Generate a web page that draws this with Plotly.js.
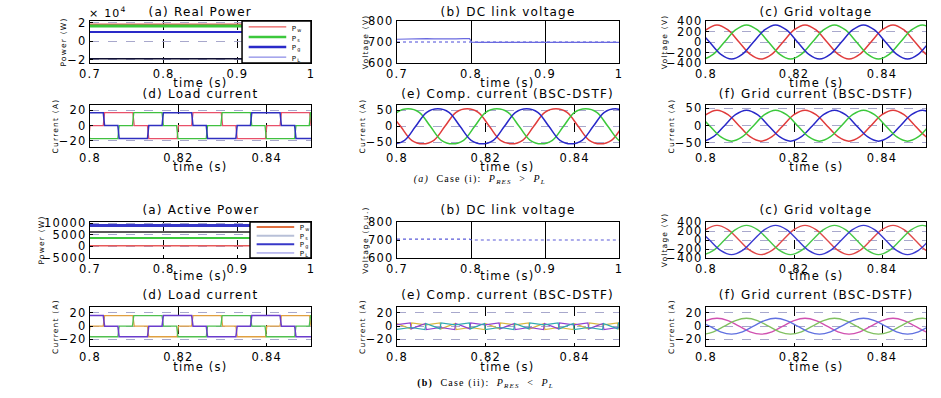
<!DOCTYPE html>
<html><head><meta charset="utf-8">
<script src="https://cdn.plot.ly/plotly-3.0.1.min.js"></script>
<style>
html,body{margin:0;padding:0;background:#fff;}
#chart{width:941px;height:398px;}
.main-svg text{letter-spacing:1.2px;}
</style></head>
<body><div id="chart"></div>
<script>
// ---------------- DATA ----------------
// power plots (time span 0.7 - 1.0 s)
const tPow = [0.7, 1.0];
const pW1 = [18500, 18500];
const pS1 = [16500, 16500];
const pG1 = [10000, 10000];
const pL1 = [-19000, -19000];
const pW2 = [300, 300];
const pS2 = [3600, 3600];
const pG2 = [9000, 9000];
const pL2 = [6200, 6200];

// DC link voltage
const tDc = [0.7, 0.71, 0.72, 0.73, 0.74, 0.75, 0.76, 0.77, 0.78, 0.79, 0.798, 0.801, 0.81, 0.85, 0.9, 0.95, 1.0];
const vDc1 = [713, 714, 716, 717, 716, 715, 714, 714, 715, 716, 716, 699, 698, 698, 698, 698, 698];
const vDc2 = [705, 705, 706, 706, 705, 705, 706, 706, 705, 705, 705, 700, 700, 700, 700, 700, 700];
const tRef = [0.7, 1.0];
const vRef1 = [700, 700];

// three-phase sample times (one list per phase)
const tP1 = [0.7975,0.8,0.8025,0.805,0.8075,0.81,0.8125,0.815,0.8175,0.82,0.8225,0.825,0.8275,0.83,0.8325,0.835,0.8375,0.84,0.8425,0.845,0.8475,0.85,0.8525];
const tP2 = [0.7967,0.7992,0.8017,0.8042,0.8067,0.8092,0.8117,0.8142,0.8167,0.8192,0.8217,0.8242,0.8267,0.8292,0.8317,0.8342,0.8367,0.8392,0.8417,0.8442,0.8467,0.8492,0.8517];
const tP3 = [0.7983,0.8008,0.8033,0.8058,0.8083,0.8108,0.8133,0.8158,0.8183,0.8208,0.8233,0.8258,0.8283,0.8308,0.8333,0.8358,0.8383,0.8408,0.8433,0.8458,0.8483,0.8508,0.8533];

// grid voltage (V)
const vGa = [0,230,325,230,0,-230,-325,-230,0,230,325,230,0,-230,-325,-230,0,230,325,230,0,-230,-325];
const vGb = [-230,-325,-230,0,230,325,230,0,-230,-325,-230,0,230,325,230,0,-230,-325,-230,0,230,325,230];
const vGc = [230,0,-230,-325,-230,0,230,325,230,0,-230,-325,-230,0,230,325,230,0,-230,-325,-230,0,230];

// grid current case (i)
const ig1a = [0,32,45,32,0,-32,-45,-32,0,32,45,32,0,-32,-45,-32,0,32,45,32,0,-32,-45];
const ig1b = [-32,-45,-32,0,32,45,32,0,-32,-45,-32,0,32,45,32,0,-32,-45,-32,0,32,45,32];
const ig1c = [32,0,-32,-45,-32,0,32,45,32,0,-32,-45,-32,0,32,45,32,0,-32,-45,-32,0,32];

// compensating current case (i)
const ic1r = [44,0,-44,-55,-44,0,44,55,44,0,-44,-55,-44,0,44,55,44,0,-44,-55,-44,0,44];
const ic1g = [0,44,55,44,0,-44,-55,-44,0,44,55,44,0,-44,-55,-44,0,44,55,44,0,-44,-55];
const ic1b = [-44,-55,-44,0,44,55,44,0,-44,-55,-44,0,44,55,44,0,-44,-55,-44,0,44,55,44];

// grid current case (ii)
const ig2a = [0,8.5,12,8.5,0,-8.5,-12,-8.5,0,8.5,12,8.5,0,-8.5,-12,-8.5,0,8.5,12,8.5,0,-8.5,-12];
const ig2b = [-8.5,-12,-8.5,0,8.5,12,8.5,0,-8.5,-12,-8.5,0,8.5,12,8.5,0,-8.5,-12,-8.5,0,8.5,12,8.5];
const ig2c = [8.5,0,-8.5,-12,-8.5,0,8.5,12,8.5,0,-8.5,-12,-8.5,0,8.5,12,8.5,0,-8.5,-12,-8.5,0,8.5];

// load current (quasi-square) breakpoints
const tLa = [0.7997,0.8,0.803,0.8033,0.8097,0.81,0.813,0.8133,0.8197,0.82,0.823,0.8233,0.8297,0.83,0.833,0.8333,0.8397,0.84,0.843,0.8433,0.8497,0.85];
const iL1a = [-17,0,0,17,17,0,0,-17,-17,0,0,17,17,0,0,-17,-17,0,0,17,17,0];
const iL2a = [-16,0,0,16,16,0,0,-16,-16,0,0,16,16,0,0,-16,-16,0,0,16,16,0];
const tLb = [0.7966,0.7996,0.7999,0.8063,0.8066,0.8096,0.8099,0.8163,0.8166,0.8196,0.8199,0.8263,0.8266,0.8296,0.8299,0.8363,0.8366,0.8396,0.8399,0.8463,0.8466,0.8496,0.8499,0.8563];
const iL1b = [0,0,-17,-17,0,0,17,17,0,0,-17,-17,0,0,17,17,0,0,-17,-17,0,0,17,17];
const iL2b = [0,0,-16,-16,0,0,16,16,0,0,-16,-16,0,0,16,16,0,0,-16,-16,0,0,16,16];
const tLc = [0.7966,0.803,0.8033,0.8063,0.8066,0.813,0.8133,0.8163,0.8166,0.823,0.8233,0.8263,0.8266,0.833,0.8333,0.8363,0.8366,0.843,0.8433,0.8463,0.8466,0.853];
const iL1c = [17,17,0,0,-17,-17,0,0,17,17,0,0,-17,-17,0,0,17,17,0,0,-17,-17];
const iL2c = [16,16,0,0,-16,-16,0,0,16,16,0,0,-16,-16,0,0,16,16,0,0,-16,-16];

// compensating current case (ii)
const tCa = [0.7965,0.7997,0.7999,0.8015,0.8031,0.8033,0.8065,0.8097,0.8099,0.8115,0.8131,0.8133,0.8165,0.8197,0.8199,0.8215,0.8231,0.8233,0.8265,0.8297,0.8299,0.8315,0.8331,0.8333,0.8365,0.8397,0.8399,0.8415,0.8431,0.8433,0.8465,0.8497,0.8499,0.8515];
const ic2a = [-2,-5,4,0,-4,5,2,5,-4,0,4,-5,-2,-5,4,0,-4,5,2,5,-4,0,4,-5,-2,-5,4,0,-4,5,2,5,-4,0];
const tCb = [0.7948,0.7964,0.7966,0.7998,0.803,0.8032,0.8048,0.8064,0.8066,0.8098,0.813,0.8132,0.8148,0.8164,0.8166,0.8198,0.823,0.8232,0.8248,0.8264,0.8266,0.8298,0.833,0.8332,0.8348,0.8364,0.8366,0.8398,0.843,0.8432,0.8448,0.8464,0.8466,0.8498,0.853];
const ic2b = [0,-4,5,2,5,-4,0,4,-5,-2,-5,4,0,-4,5,2,5,-4,0,4,-5,-2,-5,4,0,-4,5,2,5,-4,0,4,-5,-2,-5];
const tCc = [0.7981,0.7997,0.7999,0.8031,0.8063,0.8065,0.8081,0.8097,0.8099,0.8131,0.8163,0.8165,0.8181,0.8197,0.8199,0.8231,0.8263,0.8265,0.8281,0.8297,0.8299,0.8331,0.8363,0.8365,0.8381,0.8397,0.8399,0.8431,0.8463,0.8465,0.8481,0.8497,0.8499,0.8531];
const ic2c = [0,4,-5,-2,-5,4,0,-4,5,2,5,-4,0,4,-5,-2,-5,4,0,-4,5,2,5,-4,0,4,-5,-2,-5,4,0,-4,5,2];

// tick labels
const tickPowLong = [0.7, 0.8, 0.9, 1];
const tickPowLongText = ['0.7', '0.8', '0.9', '1'];
const tickShort = [0.8, 0.82, 0.84];
const tickShortText = ['0.8', '0.82', '0.84'];

// ---------------- LAYOUT ----------------
const W = 941, H = 398;
const FONT = 'DejaVu Sans, Arial, sans-serif';
const cols = [[90, 311], [397, 619], [706, 926]];
const rows = [[21, 63], [105, 147], [222, 258], [307, 346]];
const titleY = [12, 94, 210, 295];
const xlabY = [83, 167, 276, 367];

const specs = [
  {t:'(a) Real Power', long:true, yr:[-23500, 22000], yt:[-20000, 0, 20000], ytt:['−2', '0', '2'], yl:'Power (W)'},
  {t:'(b) DC link voltage', long:true, yr:[600, 800], yt:[600, 700, 800], yl:'Voltage (V)', solidGrid:true, noYGrid:true},
  {t:'(c) Grid voltage', yr:[-400, 400], yt:[-400, -200, 0, 200, 400], ytt:['−400', '−200', '0', '200', '400'], yl:'Voltage (V)'},
  {t:'(d) Load current', yr:[-28, 27], yt:[-20, 0, 20], ytt:['−20', '0', '20'], yl:'Current (A)'},
  {t:'(e) Comp. current (BSC-DSTF)', yr:[-65, 67], yt:[-50, 0, 50], ytt:['−50', '0', '50'], yl:'Current (A)'},
  {t:'(f) Grid current (BSC-DSTF)', yr:[-62, 60], yt:[-50, 0, 50], ytt:['−50', '0', '50'], yl:'Current (A)'},
  {t:'(a) Active Power', long:true, yr:[-5000, 10500], yt:[-5000, 0, 5000, 10000], ytt:['−5000', '0', '5000', '10000'], yl:'Power (W)'},
  {t:'(b) DC link voltage', long:true, yr:[600, 800], yt:[600, 700, 800], yl:'Voltage (p.u.)', solidGrid:true, noYGrid:true},
  {t:'(c) Grid voltage', yr:[-400, 400], yt:[-400, -200, 0, 200, 400], ytt:['−400', '−200', '0', '200', '400'], yl:'Voltage (V)'},
  {t:'(d) Load current', yr:[-30, 29], yt:[-20, 0, 20], ytt:['−20', '0', '20'], yl:'Current (A)'},
  {t:'(e) Comp. current (BSC-DSTF)', yr:[-30, 29], yt:[-20, 0, 20], ytt:['−20', '0', '20'], yl:'Current (A)'},
  {t:'(f) Grid current (BSC-DSTF)', yr:[-30, 29], yt:[-20, 0, 20], ytt:['−20', '0', '20'], yl:'Current (A)'}
];

const layout = {
  width: W, height: H, margin: {l:0, r:0, t:0, b:0},
  paper_bgcolor: '#fff', plot_bgcolor: '#fff',
  showlegend: false,
  font: {family: FONT, size: 12, color: '#000'},
  annotations: [], shapes: []
};

specs.forEach((s, i) => {
  const k = i + 1, r = Math.floor(i / 3), c = i % 3;
  const xs = k === 1 ? '' : String(k);
  const cx = (cols[c][0] + cols[c][1]) / 2 / W;
  layout['xaxis' + xs] = {
    domain: [cols[c][0] / W, cols[c][1] / W], anchor: 'y' + xs,
    range: s.long ? [0.7, 1] : [0.8, 0.85],
    tickvals: s.long ? tickPowLong : tickShort,
    ticktext: s.long ? tickPowLongText : tickShortText,
    ticks: 'inside', ticklen: 3, tickcolor: '#000',
    showline: true, mirror: true, linecolor: '#000', linewidth: 1.2,
    showgrid: true, gridcolor: '#000', gridwidth: 1, griddash: s.solidGrid ? 'solid' : 'dash',
    zeroline: false, tickfont: {size: 11.5, family: FONT}
  };
  layout['yaxis' + xs] = {
    domain: [1 - rows[r][1] / H, 1 - rows[r][0] / H], anchor: 'x' + xs,
    range: s.yr, tickvals: s.yt, ticktext: s.ytt || s.yt.map(String),
    ticks: 'inside', ticklen: 3, tickcolor: '#000',
    showline: true, mirror: true, linecolor: '#000', linewidth: 1.2,
    showgrid: !s.noYGrid, gridcolor: '#a8a8cc', gridwidth: 1, griddash: 'dash',
    zeroline: false, tickfont: {size: 11.5, family: FONT},
    title: {text: s.yl, standoff: 2, font: {size: 7.5, family: FONT}}
  };
  // subplot title
  layout.annotations.push({
    xref: 'paper', yref: 'paper', x: cx, y: 1 - titleY[r] / H,
    xanchor: 'center', yanchor: 'middle', showarrow: false, text: s.t,
    font: {size: 12, family: FONT}
  });
  // x-axis label
  layout.annotations.push({
    xref: 'paper', yref: 'paper', x: cx, y: 1 - xlabY[r] / H,
    xanchor: 'center', yanchor: 'middle', showarrow: false, text: 'time (s)',
    font: {size: 11.5, family: FONT}
  });
});

// x10^4 multiplier
layout.annotations.push({xref:'paper', yref:'paper', x: 90 / W, y: 1 - 12 / H, xanchor:'left', yanchor:'middle',
  showarrow:false, text:'× 10<sup>4</sup>', font:{size: 11, family: FONT}});

// captions
layout.annotations.push({xref:'paper', yref:'paper', x: 480 / W, y: 1 - 180 / H, xanchor:'center', yanchor:'middle',
  showarrow:false, text:'<i>(a)</i>  Case (i):  <i>P<sub>RES</sub></i>  >  <i>P<sub>L</sub></i>',
  font:{size: 10, family:'Liberation Serif, serif'}});
layout.annotations.push({xref:'paper', yref:'paper', x: 485 / W, y: 1 - 383 / H, xanchor:'center', yanchor:'middle',
  showarrow:false, text:'<b>(b)</b>  Case (ii):  <i>P<sub>RES</sub></i>  <  <i>P<sub>L</sub></i>',
  font:{size: 10, family:'Liberation Serif, serif'}});

// legend boxes (drawn on top of the power plots)
function legendBox(ax, x0, entries) {
  const xr = 'x' + ax + ' domain', yr = 'y' + ax + ' domain';
  layout.shapes.push({type:'rect', xref:xr, yref:yr, x0:x0, x1:1, y0:0, y1:1, fillcolor:'#fff',
    line:{color:'#000', width:1.5}, layer:'above'});
  entries.forEach((e, j) => {
    const yy = 0.86 - j * 0.24;
    layout.shapes.push({type:'line', xref:xr, yref:yr, x0:x0 + 0.03, x1:x0 + 0.2, y0:yy, y1:yy,
      line:{color:e.color, width:e.w}, layer:'above'});
    layout.annotations.push({xref:xr, yref:yr, x:x0 + 0.22, y:yy - 0.04, xanchor:'left', yanchor:'middle',
      showarrow:false, text:e.text, font:{size:7, family:FONT}});
  });
}
legendBox('', 0.688, [
  {color:'#e85a5a', w:1.2, text:'P<sub>w</sub>'},
  {color:'#3cc83c', w:2.5, text:'P<sub>s</sub>'},
  {color:'#2a2ac8', w:2.5, text:'P<sub>g</sub>'},
  {color:'#6f6fe0', w:1, text:'P<sub>L</sub>'}
]);
legendBox('7', 0.724, [
  {color:'#e07040', w:2, text:'P<sub>w</sub>'},
  {color:'#b8c0d8', w:2, text:'P<sub>s</sub>'},
  {color:'#3838c8', w:2, text:'P<sub>g</sub>'},
  {color:'#8080e0', w:1, text:'P<sub>L</sub>'}
]);

// ---------------- TRACES ----------------
function tr(k, x, y, color, width, extra) {
  const xs = k === 1 ? '' : String(k);
  return Object.assign({type:'scatter', mode:'lines', x:x, y:y, xaxis:'x' + xs, yaxis:'y' + xs,
    line:{color:color, width:width}, hoverinfo:'skip'}, extra || {});
}
function sp(k, x, y, color, width) {
  const t = tr(k, x, y, color, width);
  t.line.shape = 'spline';
  return t;
}

const data = [
  // (a) real power, case i
  tr(1, tPow, pW1, '#e85a5a', 1.5),
  tr(1, tPow, pS1, '#3cc83c', 3),
  tr(1, tPow, pG1, '#2a2ac8', 2),
  tr(1, tPow, pL1, '#111133', 1.5),
  // (b) dc link, case i
  tr(2, tRef, vRef1, '#4a4ad8', 1, {line:{color:'#4a4ad8', width:1, dash:'dot'}}),
  tr(2, tDc, vDc1, '#6a6ae0', 1.2),
  // (c) grid voltage, case i
  sp(3, tP1, vGa, '#e03c3c', 1.5), sp(3, tP2, vGb, '#3cc83c', 1.5), sp(3, tP3, vGc, '#2828c8', 1.5),
  // (d) load current, case i
  tr(4, tLa, iL1a, '#e8506a', 1.3), tr(4, tLb, iL1b, '#40c040', 1.3), tr(4, tLc, iL1c, '#3030c0', 1.5),
  // (e) comp current, case i
  sp(5, tP3, ic1r, '#e03c3c', 1.5), sp(5, tP1, ic1g, '#3cc83c', 1.5), sp(5, tP2, ic1b, '#2828c8', 1.5),
  // (f) grid current, case i
  sp(6, tP1, ig1a, '#e03c3c', 1.5), sp(6, tP2, ig1b, '#2828c8', 1.5), sp(6, tP3, ig1c, '#3cc83c', 1.5),
  // (a) active power, case ii
  tr(7, tPow, pW2, '#e85a5a', 1.5),
  tr(7, tPow, pS2, '#3cc83c', 2),
  tr(7, tPow, pG2, '#3838c8', 3),
  tr(7, tPow, pL2, '#222222', 1.5),
  // (b) dc link, case ii
  tr(8, tDc, vDc2, '#5a5ad8', 1.2, {line:{color:'#5a5ad8', width:1.2, dash:'dot'}}),
  // (c) grid voltage, case ii
  sp(9, tP1, vGa, '#e04848', 1.4), sp(9, tP2, vGb, '#48c848', 1.4), sp(9, tP3, vGc, '#3a3ad0', 1.4),
  // (d) load current, case ii
  tr(10, tLa, iL2a, '#e0a040', 1.3), tr(10, tLb, iL2b, '#50c050', 1.3), tr(10, tLc, iL2c, '#6a3ccc', 1.5),
  // (e) comp current, case ii
  tr(11, tCa, ic2a, '#d8b840', 1.2), tr(11, tCb, ic2b, '#9040d0', 1.2), tr(11, tCc, ic2c, '#30a8b0', 1.2),
  // (f) grid current, case ii
  sp(12, tP1, ig2a, '#d050b0', 1.3), sp(12, tP2, ig2b, '#80c060', 1.3), sp(12, tP3, ig2c, '#6070e0', 1.3)
];

Plotly.newPlot('chart', data, layout, {staticPlot: true, displayModeBar: false});
</script></body></html>
